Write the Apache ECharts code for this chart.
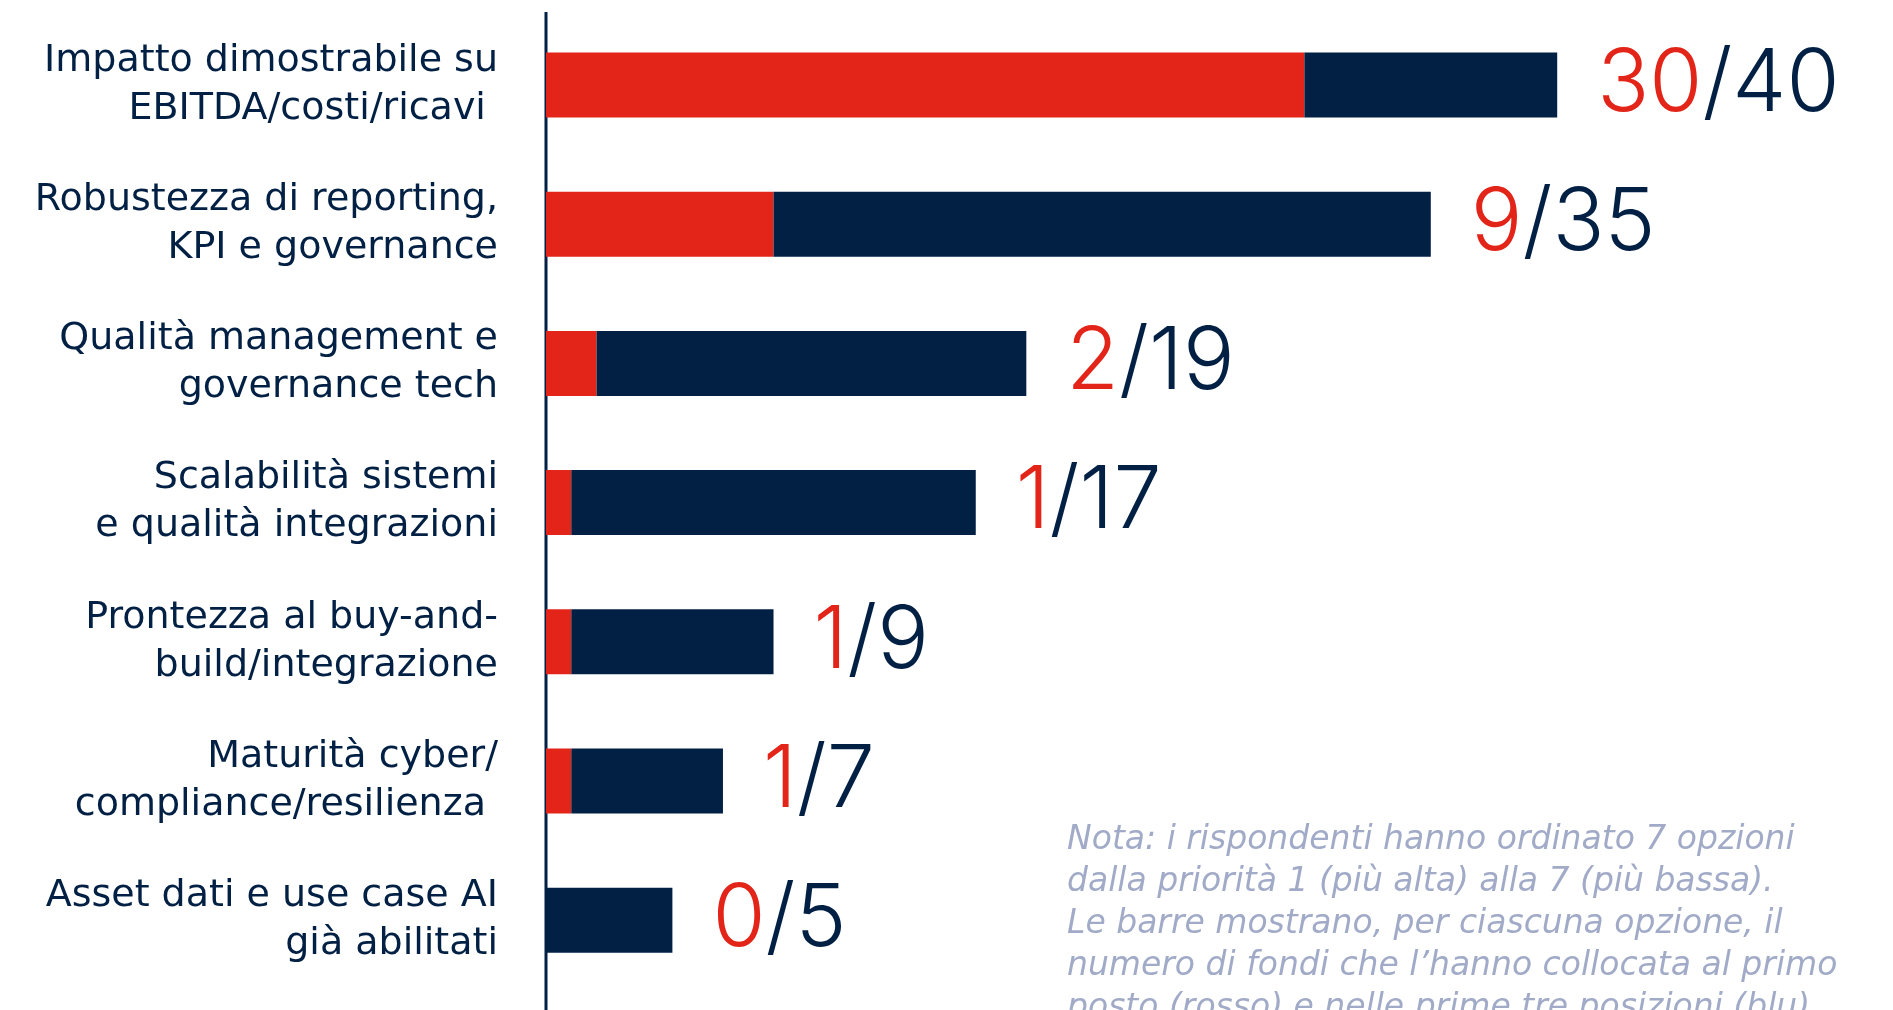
<!DOCTYPE html>
<html>
<head>
<meta charset="utf-8">
<script src="https://cdn.jsdelivr.net/npm/echarts@6/dist/echarts.min.js"></script>
<style>
  html, body { margin: 0; padding: 0; background: #fff; }
  #chart { width: 1893px; height: 1010px; }
</style>
</head>
<body>
<div id="chart"></div>
<script>
// categorie (dall'alto in basso)
var categories = [
  "Impatto dimostrabile su\nEBITDA/costi/ricavi ",
  "Robustezza di reporting,\nKPI e governance",
  "Qualità management e\ngovernance tech",
  "Scalabilità sistemi\ne qualità integrazioni",
  "Prontezza al buy-and-\nbuild/integrazione",
  "Maturità cyber/\ncompliance/resilienza ",
  "Asset dati e use case AI\ngià abilitati"
];
// fondi che hanno messo l'opzione al primo posto
var firstPlace = [30, 9, 2, 1, 1, 1, 0];
// fondi che l'hanno messa nelle prime tre posizioni
var topThree = [40, 35, 19, 17, 9, 7, 5];

var noteText = [
  "Nota: i rispondenti hanno ordinato 7 opzioni",
  "dalla priorità 1 (più alta) alla 7 (più bassa).",
  "Le barre mostrano, per ciascuna opzione, il",
  "numero di fondi che l\u2019hanno collocata al primo",
  "posto (rosso) e nelle prime tre posizioni (blu)."
];

var RED = "#e32519";
var NAVY = "#012044";

// la parte blu è la differenza tra top 3 e primo posto
var rest = topThree.map(function(t, i) { return t - firstPlace[i]; });

var chart = echarts.init(document.getElementById("chart"));

var option = {
  animation: false,
  grid: { left: 546, top: 15.4, width: 1264, height: 974.4, containLabel: false },
  xAxis: {
    type: "value",
    min: 0,
    max: 50,
    show: false
  },
  yAxis: {
    type: "category",
    inverse: true,
    data: categories,
    axisLine: { show: false },
    axisTick: { show: false },
    axisLabel: {
      margin: 48,
      align: "right",
      color: NAVY,
      fontFamily: "DejaVu Sans",
      fontSize: 38,
      lineHeight: 48
    }
  },
  series: [
    {
      name: "Primo posto",
      type: "bar",
      stack: "tot",
      barWidth: 65,
      data: firstPlace,
      itemStyle: { color: RED }
    },
    {
      name: "Prime tre posizioni",
      type: "bar",
      stack: "tot",
      barWidth: 65,
      data: rest,
      itemStyle: { color: NAVY },
      label: {
        show: true,
        position: "right",
        distance: 40,
        formatter: function(p) {
          return "{r|" + firstPlace[p.dataIndex] + "}{n|/" + topThree[p.dataIndex] + "}";
        },
        rich: {
          r: { color: RED, fontFamily: "Inter", fontWeight: 300, fontSize: 86 },
          n: { color: NAVY, fontFamily: "Inter", fontWeight: 300, fontSize: 86 }
        }
      }
    }
  ],
  graphic: [
    {
      type: "line",
      shape: { x1: 546, y1: 12, x2: 546, y2: 1010 },
      style: { stroke: NAVY, lineWidth: 3 },
      silent: true
    },
    {
      type: "text",
      left: 1067,
      top: 819,
      style: {
        text: noteText.join("\n"),
        fill: "#a1abc8",
        font: "italic 200 33px 'DejaVu Sans'",
        lineHeight: 42
      }
    }
  ]
};

chart.setOption(option);
</script>
</body>
</html>
